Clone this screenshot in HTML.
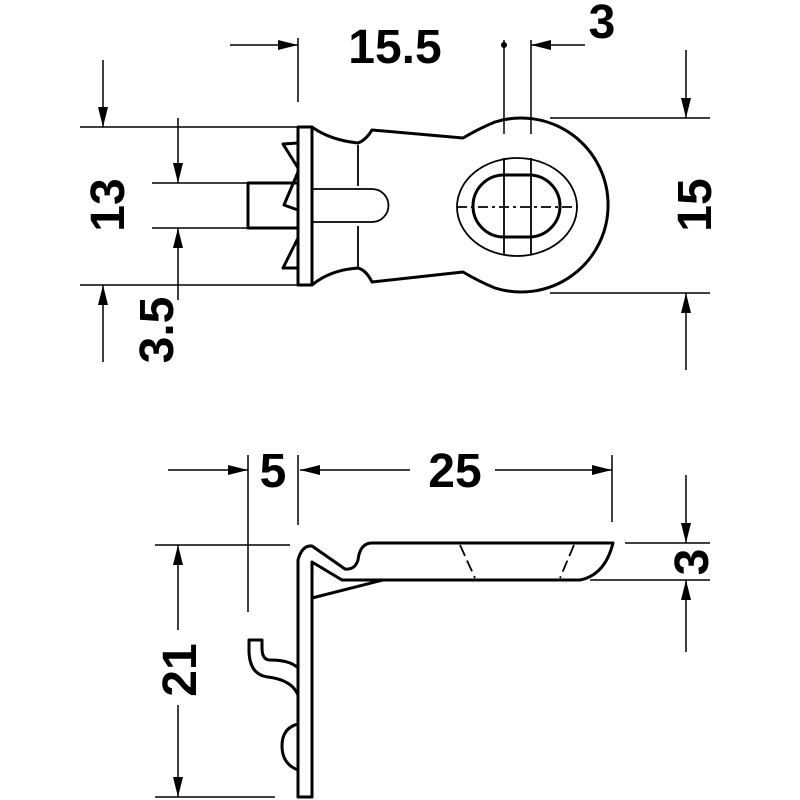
<!DOCTYPE html>
<html><head><style>html,body{margin:0;padding:0;background:#fff}svg{display:block}
text{font-family:"Liberation Sans",Arial,sans-serif;font-weight:bold;font-size:48px;fill:#000}</style></head>
<body>
<svg width="800" height="800" viewBox="0 0 800 800" xmlns="http://www.w3.org/2000/svg">
<defs>
<marker id="a" viewBox="0 0 20 10" refX="20" refY="5" markerWidth="20" markerHeight="10" markerUnits="userSpaceOnUse" orient="auto"><path d="M0,0 L20,5 L0,10 z" fill="#000"/></marker>
</defs>
<g stroke="#000" stroke-width="1.5" fill="none">
<line x1="298" y1="38" x2="298" y2="102"/>
<line x1="504" y1="40" x2="504" y2="134"/>
<line x1="531" y1="40" x2="531" y2="134"/>
<line x1="80" y1="127" x2="298" y2="127"/>
<line x1="80" y1="285" x2="298" y2="285"/>
<line x1="152" y1="183" x2="248" y2="183"/>
<line x1="152" y1="228" x2="248" y2="228"/>
<line x1="550" y1="118" x2="710" y2="118"/>
<line x1="550" y1="293" x2="710" y2="293"/>
<line x1="230" y1="45" x2="298" y2="45" marker-end="url(#a)"/>
<line x1="585" y1="45" x2="531" y2="45" marker-end="url(#a)"/>
<line x1="103" y1="60" x2="103" y2="127" marker-end="url(#a)"/>
<line x1="103" y1="362" x2="103" y2="285" marker-end="url(#a)"/>
<line x1="178" y1="118" x2="178" y2="183" marker-end="url(#a)"/>
<line x1="178" y1="300" x2="178" y2="228" marker-end="url(#a)"/>
<line x1="686" y1="50" x2="686" y2="118" marker-end="url(#a)"/>
<line x1="686" y1="370" x2="686" y2="293" marker-end="url(#a)"/>
</g>
<circle cx="504" cy="45" r="3" fill="#000"/>
<g stroke="#000" stroke-width="3" fill="none" stroke-linejoin="round">
<rect x="298" y="127" width="14" height="158" fill="#fff"/>
<path d="M312,127 Q330,140 358,143 Q366,140 372,130 L463,138 Q480,128 495,122 A87,87 0 1 1 495,288 Q480,282 463,272 L372,282 Q366,270 358,268 Q330,270 312,285"/>
<path d="M298,183 L248,183 L248,228 L298,228"/>
<path d="M298,143 L283,144 L298,168 M298,172 L284,205 L298,210 M298,238 L283,268 L298,268"/>
<rect x="473" y="175" width="87" height="62" rx="31"/>
</g>
<g stroke="#000" stroke-width="1.8" fill="none">
<path d="M312,189 L372,189 A16,16 0 0 1 372,222 L312,222"/>
<line x1="358" y1="145" x2="358" y2="186"/>
<line x1="358" y1="226" x2="358" y2="268"/>
<ellipse cx="517" cy="207" rx="60" ry="49"/>
<line x1="504" y1="158" x2="504" y2="254"/>
<line x1="531" y1="158" x2="531" y2="254"/>
<line x1="457" y1="207" x2="577" y2="207" stroke-dasharray="10,4,3,4"/>
</g>
<text x="395" y="63" text-anchor="middle">15.5</text>
<text x="602" y="38" text-anchor="middle">3</text>
<text transform="translate(124,205) rotate(-90)" text-anchor="middle">13</text>
<text transform="translate(173,330) rotate(-90)" text-anchor="middle">3.5</text>
<text transform="translate(711,205) rotate(-90)" text-anchor="middle">15</text>
<g stroke="#000" stroke-width="1.5" fill="none">
<line x1="248" y1="455" x2="248" y2="612"/>
<line x1="298" y1="455" x2="298" y2="525"/>
<line x1="612" y1="455" x2="612" y2="522"/>
<line x1="155" y1="545" x2="290" y2="545"/>
<line x1="155" y1="797" x2="275" y2="797"/>
<line x1="625" y1="543" x2="710" y2="543"/>
<line x1="590" y1="580" x2="710" y2="580"/>
<line x1="168" y1="470" x2="248" y2="470" marker-end="url(#a)"/>
<line x1="410" y1="470" x2="300" y2="470" marker-end="url(#a)"/>
<line x1="495" y1="470" x2="612" y2="470" marker-end="url(#a)"/>
<line x1="686" y1="475" x2="686" y2="543" marker-end="url(#a)"/>
<line x1="686" y1="652" x2="686" y2="580" marker-end="url(#a)"/>
<line x1="178" y1="630" x2="178" y2="545" marker-end="url(#a)"/>
<line x1="178" y1="705" x2="178" y2="797" marker-end="url(#a)"/>
</g>
<text x="273" y="487" text-anchor="middle">5</text>
<text x="455" y="487" text-anchor="middle">25</text>
<text transform="translate(708,562) rotate(-90)" text-anchor="middle">3</text>
<text transform="translate(196,670) rotate(-90)" text-anchor="middle">21</text>
<g stroke="#000" stroke-width="3" fill="none" stroke-linejoin="round">
<path d="M298,797 L298,560 Q302,545 312,546 L345,569 Q355,570 358,560 Q360,543 372,543 L613,543 Q605,575 580,580 L342,580 L312,562 L312,797 Z"/>
<path d="M312,598 L383,580"/>
<path d="M298,668 Q290,660 270,660 Q262,660 262,648 L262,640 L249,640 L249,652 Q250,675 268,677 Q292,680 298,695"/>
<path d="M298,724 Q282,728 282,746 Q282,764 298,770"/>
</g>
<g stroke="#000" stroke-width="1.8" fill="none">
<line x1="460" y1="545" x2="475" y2="578" stroke-dasharray="12,5"/>
<line x1="574" y1="545" x2="560" y2="578" stroke-dasharray="12,5"/>
</g>
</svg>
</body></html>
